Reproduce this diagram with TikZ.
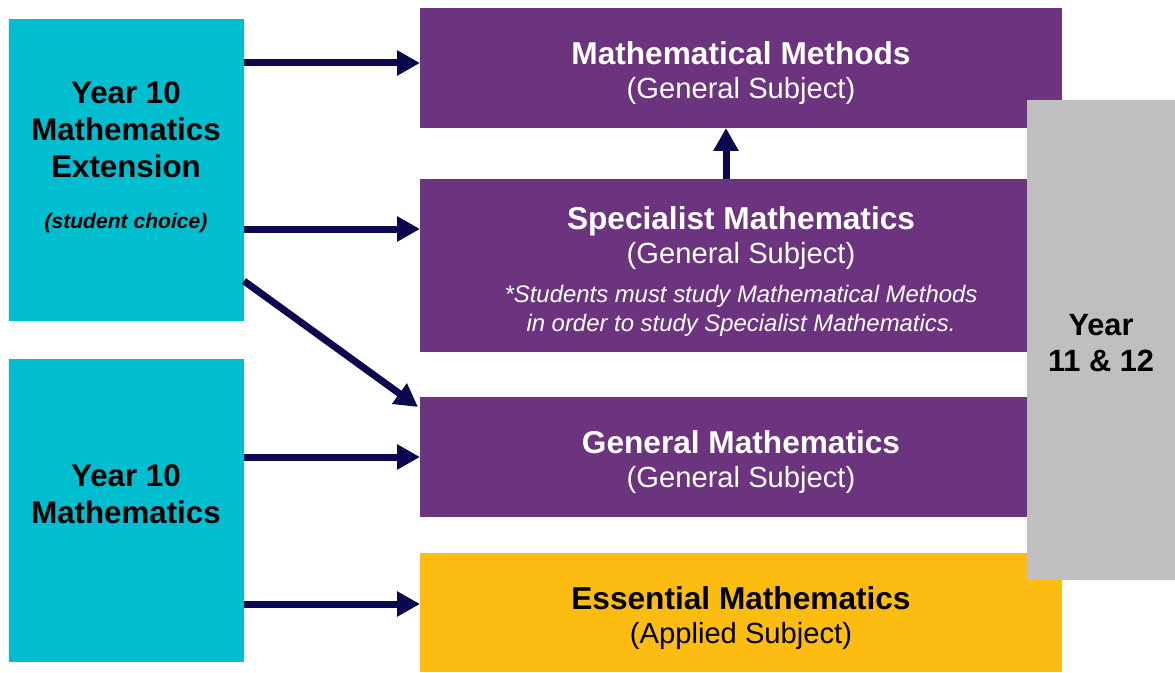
\documentclass[tikz,border=0pt]{standalone}
\usepackage{fontspec}
\setmainfont{Liberation Sans}
\usetikzlibrary{arrows.meta,positioning}
\definecolor{cyanbox}{HTML}{00BDCF}
\definecolor{purplebox}{HTML}{6C337E}
\definecolor{yellowbox}{HTML}{FCBC11}
\definecolor{greybox}{HTML}{BFBFBF}
\definecolor{navy}{HTML}{0B0850}
\newcommand{\subjname}[1]{{\fontsize{18}{19.5}\selectfont\bfseries #1}}
\tikzset{
    box/.style={anchor=north west, inner sep=0pt, outer sep=0pt},
    subject/.style={align=center, font=\fontsize{16.6}{19.5}\selectfont},
    yearlabel/.style={align=center, font=\fontsize{17.8}{21}\selectfont\bfseries},
    flow/.style={draw=navy, line width=0.14cm, -{Triangle[length=0.46cm,width=0.48cm]}}
}

\begin{document}
\begin{tikzpicture}[x=0.02cm, y=-0.02cm]
        \useasboundingbox (0,0) rectangle (1175,672);

        % year 10 boxes
        \node[box, fill=cyanbox, minimum width=4.7cm, minimum height=6.04cm] (ext) at (9,19) {};
        \node[box, fill=cyanbox, minimum width=4.7cm, minimum height=6.06cm] (core) at (9,359) {};
        \node[yearlabel] (extT) at (126,130) {Year 10\\Mathematics\\Extension};
        \node[font=\fontsize{12}{14}\selectfont\bfseries\itshape] (extC) at (126,223) {(student choice)};
        \node[yearlabel] (coreT) at (126,494) {Year 10\\Mathematics};

        % senior subjects
        \node[box, fill=purplebox, minimum width=12.84cm, minimum height=2.4cm] (methods) at (420,8) {};
        \node[box, fill=purplebox, minimum width=12.84cm, minimum height=3.46cm] (specialist) at (420,179) {};
        \node[box, fill=purplebox, minimum width=12.84cm, minimum height=2.4cm] (general) at (420,397) {};
        \node[box, fill=yellowbox, minimum width=12.84cm, minimum height=2.38cm] (essential) at (420,553) {};
        \node[box, fill=greybox, minimum width=2.96cm, minimum height=9.6cm] (senior) at (1027,100) {};

        \node[subject, text=white] (methodsT) at (741,73) {\subjname{Mathematical Methods}\\(General Subject)};
        \node[subject, text=white] (specialistT) at (741,238) {\subjname{Specialist Mathematics}\\(General Subject)};
        \node[text=white, align=center, font=\fontsize{13.6}{16.4}\selectfont\itshape] (specialistN) at (741,311) {*Students must study Mathematical Methods\\in order to study Specialist Mathematics.};
        \node[subject, text=white] (generalT) at (741,462) {\subjname{General Mathematics}\\(General Subject)};
        \node[subject] (essentialT) at (741,618) {\subjname{Essential Mathematics}\\(Applied Subject)};
        \node[yearlabel, font=\fontsize{17.5}{20.4}\selectfont\bfseries] (seniorT) at (1101,343) {Year\\11 \& 12};

        % pathways
        \draw[flow] (ext.east |- 0,63) -- (methods.west |- 0,63);
        \draw[flow] (ext.east |- 0,229) -- (specialist.west |- 0,229);
        \draw[flow] (ext.east |- 0,281) -- ([shift={(-2,10)}]general.north west);
        \draw[flow] (core.east |- 0,457) -- (general.west |- 0,457);
        \draw[flow] (core.east |- 0,604) -- (essential.west |- 0,604);
        \draw[flow] (specialist.north -| 726,0) -- (methods.south -| 726,0);
    \end{tikzpicture}
\end{document}
